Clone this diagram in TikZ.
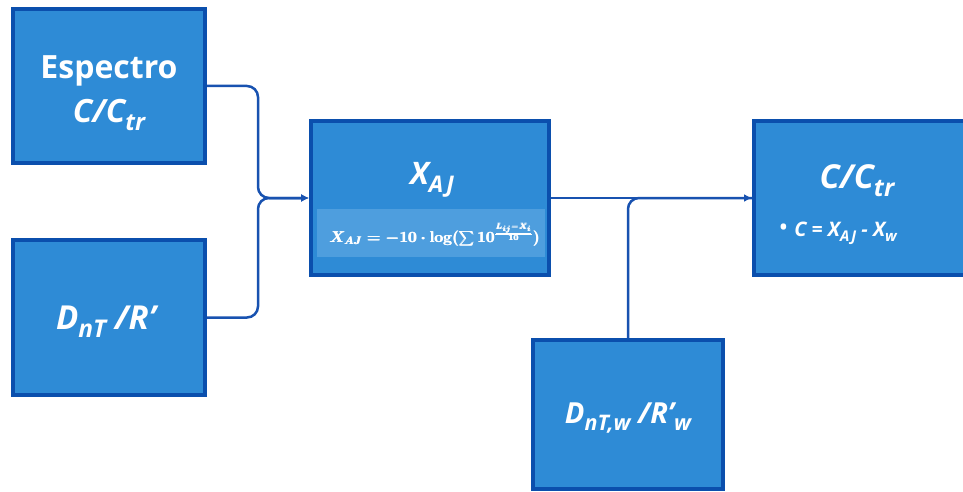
\RequirePackage{fix-cm}
\documentclass[tikz,border=0pt]{standalone}
\usepackage[no-math]{fontspec}
\setmainfont{Open Sans}
\usepackage{amsmath}
\usetikzlibrary{arrows.meta}
\definecolor{boxfill}{RGB}{46,139,214}
\definecolor{boxline}{RGB}{11,79,173}
\definecolor{bandfill}{RGB}{78,158,222}
\definecolor{linkblue}{RGB}{24,82,176}
\newsavebox{\xajbox}
\newcommand{\lo}[1]{\raisebox{-0.24em}{\scalebox{0.74}{#1}}}

\begin{document}
\sbox{\xajbox}{\fontsize{15.5}{18}\selectfont\color{white}\boldmath
  $\pmb{X_{AJ} = -10\cdot\log(\sum 10^{\frac{L_{ij}-X_i}{10}})}$}%
\begin{tikzpicture}[x=1pt, y=-1pt, >={Latex[length=8pt,width=8pt]}]
    \tikzset{
        blk/.style={draw=boxline, fill=boxfill, line width=4pt, inner sep=0pt},
        lbl/.style={text=white, font=\bfseries\itshape\fontsize{31}{44}\selectfont, align=center},
        link/.style={draw=linkblue, line width=2.5pt, rounded corners=11pt},
    }
    \useasboundingbox (0,0) rectangle (963,492);
    \clip (0,0) rectangle (963,492);
    % boxes
    \node[blk, minimum width=192pt, minimum height=154pt] (esp) at (109,86) {};
    \node[blk, minimum width=192pt, minimum height=155pt] (dnt) at (109,317.5) {};
    \node[blk, minimum width=238pt, minimum height=153pt] (xaj) at (430,198) {};
    \node[blk, minimum width=238pt, minimum height=153pt] (ctr) at (873,198) {};
    \node[blk, minimum width=190pt, minimum height=149pt] (dntw) at (628,414.5) {};
    % texts
    \node[lbl, font=\bfseries\itshape\fontsize{32}{44}\selectfont] (espT) at (109,93) {\upshape Espectro\\\itshape C/C\lo{tr}};
    \node[lbl, font=\bfseries\itshape\fontsize{33}{40}\selectfont] (dntT) at (106,322) {D\lo{nT} /R’};
    \node[lbl] (xajT) at (432,180) {X\lo{AJ}};
    \node[fill=bandfill, minimum width=228pt, minimum height=48pt, inner sep=0pt] (band) at (431,233) {};
    \node[inner sep=0pt] (xajF) at (435,235) {\usebox{\xajbox}};
    \node[lbl, font=\bfseries\itshape\fontsize{33}{40}\selectfont] (ctrT) at (857,181) {C/C\lo{tr}};
    \node[lbl, anchor=west, font=\bfseries\itshape\fontsize{20}{24}\selectfont] (ctrB) at (775,233) {{\normalfont\fontsize{26}{24}\selectfont •}\hspace{6pt}C = X\lo{AJ} - X\lo{w}};
    \node[lbl, font=\bfseries\itshape\fontsize{29}{36}\selectfont] (dntwT) at (628,418) {D\lo{nT,w} /R’\lo{w}};
    % links
    \coordinate (jn) at (258,198);
    \coordinate (mg) at (628,198);
    \draw[link, ->] (esp.east) -- (esp.east -| jn) -- (jn) -- (xaj.west);
    \draw[link, ->] (dnt.east) -- (dnt.east -| jn) -- (jn) -- (xaj.west);
    \draw[link, ->] (xaj.east) -- (ctr.west);
    \draw[link] (dntw.north) -- (mg) -- (ctr.west);
\end{tikzpicture}
\end{document}
